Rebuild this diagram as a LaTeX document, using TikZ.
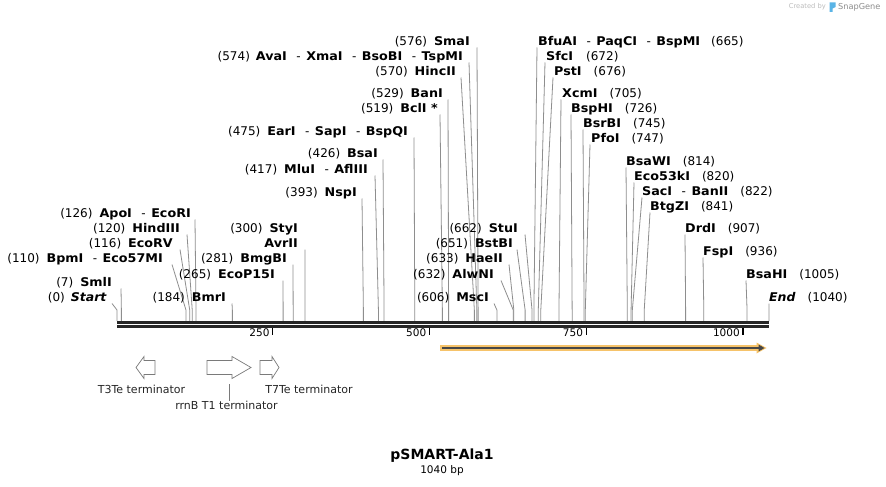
\documentclass[tikz,border=0pt]{standalone}
\usepackage{fontspec}
\setmainfont{DejaVu Sans}
\newfontfamily\lblfont{DejaVu Sans}[BoldFeatures={FakeStretch=1.06},BoldItalicFeatures={FakeStretch=1.04}]
\usetikzlibrary{arrows.meta}
\definecolor{cutgray}{HTML}{8E8E8E}
\definecolor{bb}{HTML}{262626}
\definecolor{orng}{HTML}{F6C36A}
\definecolor{featgray}{HTML}{7A7A7A}
\definecolor{sgblue}{HTML}{5AB4E6}
\definecolor{wm}{HTML}{BDBDBD}
\newcommand{\ensep}{\hspace{9.5pt}-\hspace{5.5pt}}
\newcommand{\cutL}[6]{%
  \node[lbl,anchor=east] (L#1) at (#3,#4) {#5};
  \coordinate (S#1) at ({117+#2*0.626923},321);
  \coordinate (K#1) at ({117+#2*0.626923},310);
  \coordinate (A#1) at (#6,{#4+6.5});
  \draw[cut] (A#1) -- (K#1) -- (S#1);}
\newcommand{\cutR}[6]{%
  \node[lbl,anchor=west] (L#1) at (#3,#4) {#5};
  \coordinate (S#1) at ({117+#2*0.626923},321);
  \coordinate (K#1) at ({117+#2*0.626923},310);
  \coordinate (A#1) at (#6,{#4+6.5});
  \draw[cut] (A#1) -- (K#1) -- (S#1);}
\tikzset{
  lbl/.style={inner sep=0pt, font=\lblfont\fontsize{12}{14}\selectfont, text height=8.8pt, text depth=0pt},
  cut/.style={draw=cutgray, line width=0.8pt},
  tick/.style={draw=black, line width=1.3pt},
  ticklbl/.style={inner sep=0pt, anchor=east, font=\fontsize{10.5}{12}\selectfont},
  feat/.style={draw=featgray, line width=0.7pt, fill=white},
  featlbl/.style={inner sep=0pt, font=\fontsize{11}{13}\selectfont, text=black!85},
}
\begin{document}
\begin{tikzpicture}[x=1pt,y=-1pt]
\useasboundingbox[fill=white] (0,0) rectangle (886,487);

% watermark
\node[inner sep=0pt, anchor=east, font=\fontsize{6.7}{8}\selectfont, text=wm] (wm1) at (826,7) {Created by};
\fill[sgblue] (829.5,2.5) -- (835.5,2.5) -- (835.5,7) -- (832.5,8.5) -- (832.5,12) -- (829.5,12) -- cycle;
\node[inner sep=0pt, anchor=west, font=\fontsize{8.2}{9}\selectfont, text=black!45] (wm2) at (838,7) {SnapGene};

% left-side cut sites
\cutL{start}{0}{107}{297}{(0)\hspace{6pt}\textbf{\textit{Start}}}{112}
\cutL{smlI}{7}{112}{282}{(7)\hspace{7pt}\textbf{SmlI}}{121}
\cutL{bpmI}{110}{163}{258}{(110)\hspace{7pt}\textbf{BpmI}\ensep\textbf{Eco57MI}}{172}
\cutL{ecoRV}{116}{173}{243}{(116)\hspace{7pt}\textbf{EcoRV}}{180}
\cutL{hindIII}{120}{180}{228}{(120)\hspace{7pt}\textbf{HindIII}}{187}
\cutL{apoI}{126}{191}{213}{(126)\hspace{7pt}\textbf{ApoI}\ensep\textbf{EcoRI}}{195}
\cutL{bmrI}{184}{226}{297}{(184)\hspace{7pt}\textbf{BmrI}}{232}
\cutL{ecoP}{265}{275}{274}{(265)\hspace{7pt}\textbf{EcoP15I}}{283}
\cutL{bmgBI}{281}{287}{258}{(281)\hspace{7pt}\textbf{BmgBI}}{293}
\node[lbl,anchor=east] (LstyI) at (298,228) {(300)\hspace{7pt}\textbf{StyI}};
\cutL{avrII}{300}{298}{243}{\textbf{AvrII}}{305}
\cutL{nspI}{393}{357}{192}{(393)\hspace{7pt}\textbf{NspI}}{362}
\cutL{mluI}{417}{368}{169}{(417)\hspace{7pt}\textbf{MluI}\ensep\textbf{AflIII}}{375}
\cutL{bsaI}{426}{378}{153}{(426)\hspace{7pt}\textbf{BsaI}}{383}
\cutL{earI}{475}{408}{131}{(475)\hspace{7pt}\textbf{EarI}\ensep\textbf{SapI}\ensep\textbf{BspQI}}{414}
\cutL{bclI}{519}{438}{108}{(519)\hspace{7pt}\textbf{BclI *}}{440}
\cutL{banI}{529}{443}{93}{(529)\hspace{7pt}\textbf{BanI}}{448}
\cutL{hincII}{570}{456}{71}{(570)\hspace{7pt}\textbf{HincII}}{461}
\cutL{avaI}{574}{463}{56}{(574)\hspace{6pt}\textbf{AvaI}\ensep\textbf{XmaI}\ensep\textbf{BsoBI}\ensep\textbf{TspMI}}{469}
\cutL{smaI}{576}{470}{41}{(576)\hspace{7pt}\textbf{SmaI}}{477}
\cutL{mscI}{606}{489}{297}{(606)\hspace{7pt}\textbf{MscI}}{494}
\cutL{alwNI}{632}{494}{274}{(632)\hspace{7pt}\textbf{AlwNI}}{501}
\cutL{haeII}{633}{503}{258}{(633)\hspace{7pt}\textbf{HaeII}}{509}
\cutL{bstBI}{651}{513}{243}{(651)\hspace{7pt}\textbf{BstBI}}{517}
\cutL{stuI}{662}{518}{228}{(662)\hspace{7pt}\textbf{StuI}}{525}

% right-side cut sites
\cutR{bfuAI}{665}{538}{41}{\textbf{BfuAI}\ensep\textbf{PaqCI}\ensep\textbf{BspMI}\hspace{11pt}(665)}{537}
\cutR{sfcI}{672}{546}{56}{\textbf{SfcI}\hspace{13pt}(672)}{545}
\cutR{pstI}{676}{554}{71}{\textbf{PstI}\hspace{12pt}(676)}{553}
\cutR{xcmI}{705}{562}{93}{\textbf{XcmI}\hspace{12pt}(705)}{561}
\cutR{bspHI}{726}{571}{108}{\textbf{BspHI}\hspace{12pt}(726)}{571}
\cutR{bsrBI}{745}{583}{123}{\textbf{BsrBI}\hspace{12pt}(745)}{583}
\cutR{pfoI}{747}{591}{138}{\textbf{PfoI}\hspace{12pt}(747)}{590}
\cutR{bsaWI}{814}{626}{161}{\textbf{BsaWI}\hspace{12pt}(814)}{626}
\cutR{ecoFI}{820}{634}{176}{\textbf{Eco53kI}\hspace{12pt}(820)}{634}
\cutR{sacI}{822}{642}{191}{\textbf{SacI}\ensep\textbf{BanII}\hspace{12pt}(822)}{642}
\cutR{btgZI}{841}{650}{206}{\textbf{BtgZI}\hspace{12pt}(841)}{650}
\cutR{drdI}{907}{685}{228}{\textbf{DrdI}\hspace{12pt}(907)}{685}
\cutR{fspI}{936}{703}{251}{\textbf{FspI}\hspace{12pt}(936)}{703}
\cutR{bsaHI}{1005}{746}{274}{\textbf{BsaHI}\hspace{12pt}(1005)}{746}
\cutR{end}{1040}{769}{297}{\textbf{\textit{End}}\hspace{12pt}(1040)}{769}

% backbone
\coordinate (bbL) at (117,0);
\coordinate (bbR) at (769,0);
\draw[bb, line width=3.2pt] ([yshift=-322.3pt]bbL) -- ([yshift=-322.3pt]bbR);
\draw[bb, line width=2.6pt] ([yshift=-326.7pt]bbL) -- ([yshift=-326.7pt]bbR);

% ticks
\foreach \p in {250,500,750,1000}{
  \draw[tick] ({116+\p*0.626923},327.5) -- ({116+\p*0.626923},334.5);
  \node[ticklbl] (T\p) at ({116+\p*0.626923-3},333) {\p};
}

% orange ORF arrow
\coordinate (orfA) at (440,348);
\coordinate (orfB) at (766.5,348);
\draw[orng, line width=6pt] (orfA) -- ([xshift=-8pt]orfB);
\fill[orng] (orfB) -- ([xshift=-10pt,yshift=5.5pt]orfB) -- ([xshift=-10pt,yshift=-5.5pt]orfB) -- cycle;
\draw[black!72, line width=2pt] ([xshift=2pt]orfA) -- ([xshift=-6pt]orfB);
\fill[black!72] ([xshift=-2pt]orfB) -- ([xshift=-8pt,yshift=3.5pt]orfB) -- ([xshift=-8pt,yshift=-3.5pt]orfB) -- cycle;

% features
\draw[feat] (136,367.5) -- (144,356.5) -- (144,360.5) -- (155,360.5) -- (155,374.5) -- (144,374.5) -- (144,378.5) -- cycle;
\draw[feat] (207,360.5) -- (232,360.5) -- (232,356.5) -- (251,367.5) -- (232,378.5) -- (232,374.5) -- (207,374.5) -- cycle;
\draw[feat] (260,360.5) -- (272,360.5) -- (272,356.5) -- (279,367.5) -- (272,378.5) -- (272,374.5) -- (260,374.5) -- cycle;
\node[featlbl] (f1) at (141.5,389) {T3Te terminator};
\node[featlbl] (f3) at (309,389) {T7Te terminator};
\node[featlbl] (f2) at (226.5,405) {rrnB T1 terminator};
\coordinate (f2top) at (229,384);
\draw[featgray, line width=0.7pt] (f2top) -- (f2.north -| f2top);

% title
\node[inner sep=0pt, font=\bfseries\fontsize{14}{16}\selectfont] (title) at (442,456) {pSMART-Ala1};
\node[inner sep=0pt, font=\fontsize{10.5}{12}\selectfont] (len) at (442,471) {1040 bp};
\end{tikzpicture}
\end{document}
